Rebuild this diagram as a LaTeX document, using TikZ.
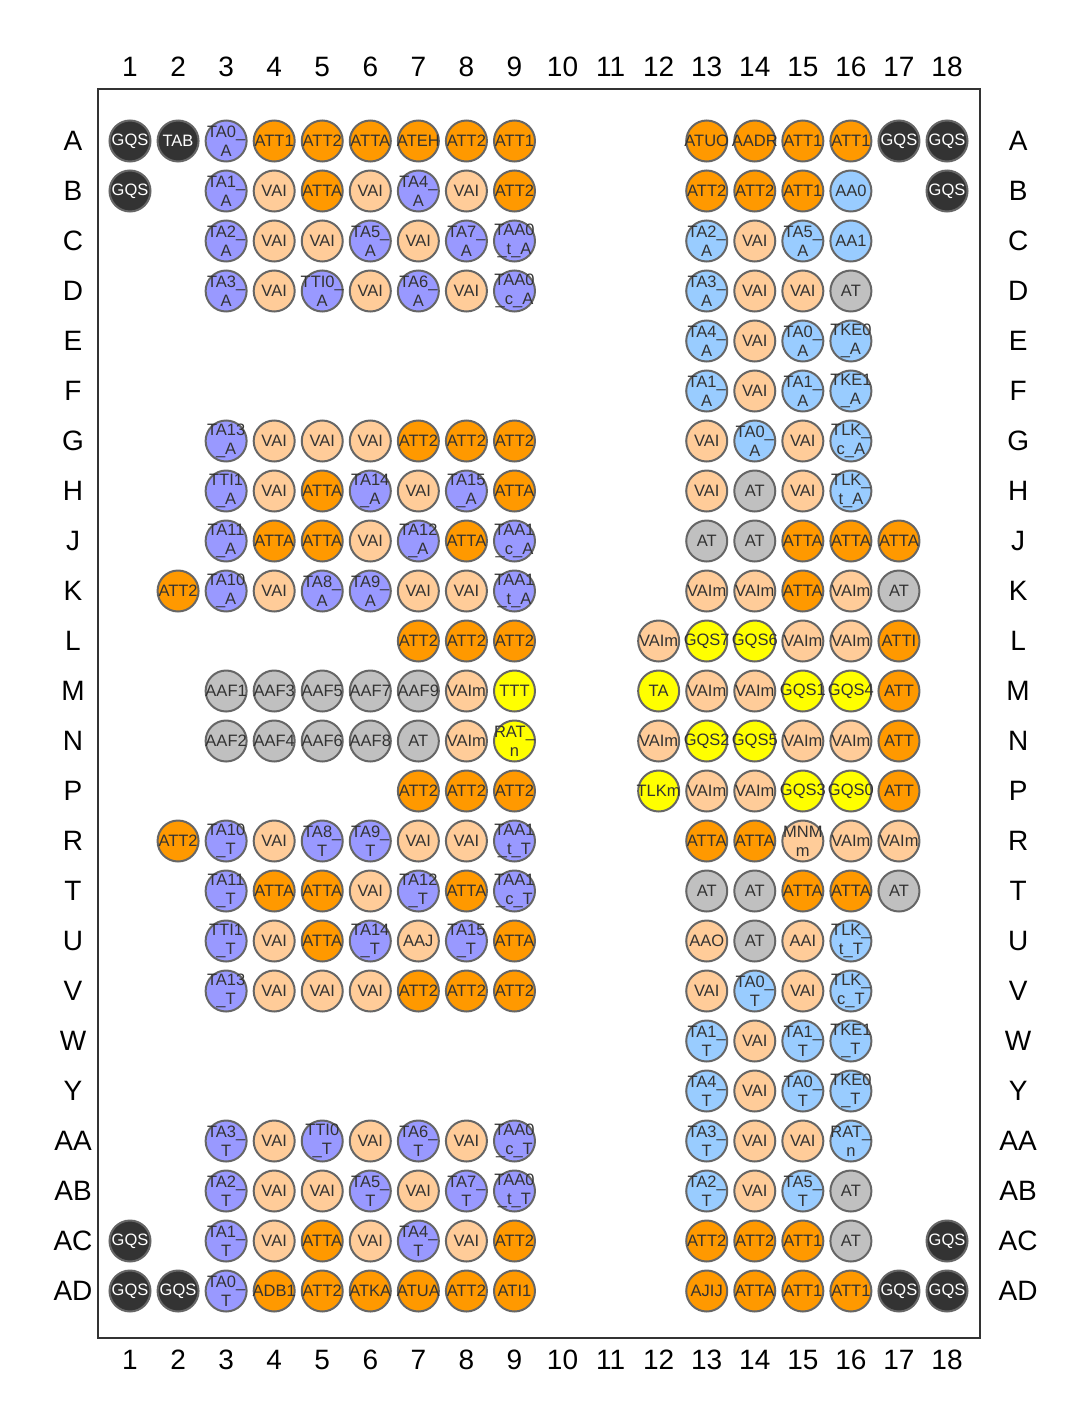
\documentclass[tikz,border=0pt]{standalone}
\usepackage{fontspec}
\setmainfont{Liberation Sans}
\usepackage{tikz}
\definecolor{framecol}{HTML}{333333}
\definecolor{ballline}{HTML}{666666}
\definecolor{textdark}{HTML}{333333}
\definecolor{filldk}{HTML}{333333}
\definecolor{filllav}{HTML}{9999FF}
\definecolor{fillor}{HTML}{FF9900}
\definecolor{fillpe}{HTML}{FFCC99}
\definecolor{filllb}{HTML}{99CCFF}
\definecolor{fillgr}{HTML}{C0C0C0}
\definecolor{fillye}{HTML}{FFFF00}
\colorlet{textdk}{white}
\colorlet{textlav}{textdark}
\colorlet{textor}{textdark}
\colorlet{textpe}{textdark}
\colorlet{textlb}{textdark}
\colorlet{textgr}{textdark}
\colorlet{textye}{textdark}
\tikzset{
  pin/.style={circle, draw=ballline, line width=2pt, minimum size=41pt,
    inner sep=0pt, fill=fill#1},
  pintext/.style={inner sep=0pt, align=center, text=text#1,
    font=\fontsize{16.5}{19}\selectfont},
  lbl/.style={text=black, font=\fontsize{28}{30}\selectfont}
}

\begin{document}
\begin{tikzpicture}[x=48.06pt, y=-50pt]
  \useasboundingbox (-1.705,-1.82) rectangle (20.975,26.72);
  % Package outline
  \draw[framecol, line width=2pt] (0.334,-0.04) rectangle (18.686,24.94);
  % Column numbers
  \foreach \c in {1,...,18} {
    \node[lbl] (top\c) at (\c,-0.48) {\c};
    \node[lbl] (bot\c) at (\c,25.38) {\c};
  }
  % Row letters
  \foreach \r [count=\i] in {A,B,C,D,E,F,G,H,J,K,L,M,N,P,R,T,U,V,W,Y,AA,AB,AC,AD} {
    \node[lbl] (left\r) at (-0.186,\i) {\r};
    \node[lbl] (right\r) at (19.48,\i) {\r};
  }
  % Balls, one row at a time (column/text/kind)
  \foreach \c/\t/\k in {1/GQS/dk, 2/TAB/dk, 3/TA0\_\\A/lav, 4/ATT1/or, 5/ATT2/or, 6/ATTA/or, 7/ATEH/or, 8/ATT2/or, 9/ATT1/or,
      13/ATUO/or, 14/AADR/or, 15/ATT1/or, 16/ATT1/or, 17/GQS/dk, 18/GQS/dk}
    \node[pin=\k, label={[pintext=\k]center:\t}] (pinA\c) at (\c,1) {};
  \foreach \c/\t/\k in {1/GQS/dk, 3/TA1\_\\A/lav, 4/VAI/pe, 5/ATTA/or, 6/VAI/pe, 7/TA4\_\\A/lav, 8/VAI/pe, 9/ATT2/or,
      13/ATT2/or, 14/ATT2/or, 15/ATT1/or, 16/AA0/lb, 18/GQS/dk}
    \node[pin=\k, label={[pintext=\k]center:\t}] (pinB\c) at (\c,2) {};
  \foreach \c/\t/\k in {3/TA2\_\\A/lav, 4/VAI/pe, 5/VAI/pe, 6/TA5\_\\A/lav, 7/VAI/pe, 8/TA7\_\\A/lav, 9/TAA0\\\_t\_A/lav,
      13/TA2\_\\A/lb, 14/VAI/pe, 15/TA5\_\\A/lb, 16/AA1/lb}
    \node[pin=\k, label={[pintext=\k]center:\t}] (pinC\c) at (\c,3) {};
  \foreach \c/\t/\k in {3/TA3\_\\A/lav, 4/VAI/pe, 5/TTI0\_\\A/lav, 6/VAI/pe, 7/TA6\_\\A/lav, 8/VAI/pe, 9/TAA0\\\_c\_A/lav,
      13/TA3\_\\A/lb, 14/VAI/pe, 15/VAI/pe, 16/AT/gr}
    \node[pin=\k, label={[pintext=\k]center:\t}] (pinD\c) at (\c,4) {};
  \foreach \c/\t/\k in {13/TA4\_\\A/lb, 14/VAI/pe, 15/TA0\_\\A/lb, 16/TKE0\\\_A/lb}
    \node[pin=\k, label={[pintext=\k]center:\t}] (pinE\c) at (\c,5) {};
  \foreach \c/\t/\k in {13/TA1\_\\A/lb, 14/VAI/pe, 15/TA1\_\\A/lb, 16/TKE1\\\_A/lb}
    \node[pin=\k, label={[pintext=\k]center:\t}] (pinF\c) at (\c,6) {};
  \foreach \c/\t/\k in {3/TA13\\\_A/lav, 4/VAI/pe, 5/VAI/pe, 6/VAI/pe, 7/ATT2/or, 8/ATT2/or, 9/ATT2/or,
      13/VAI/pe, 14/TA0\_\\A/lb, 15/VAI/pe, 16/TLK\_\\c\_A/lb}
    \node[pin=\k, label={[pintext=\k]center:\t}] (pinG\c) at (\c,7) {};
  \foreach \c/\t/\k in {3/TTI1\\\_A/lav, 4/VAI/pe, 5/ATTA/or, 6/TA14\\\_A/lav, 7/VAI/pe, 8/TA15\\\_A/lav, 9/ATTA/or,
      13/VAI/pe, 14/AT/gr, 15/VAI/pe, 16/TLK\_\\t\_A/lb}
    \node[pin=\k, label={[pintext=\k]center:\t}] (pinH\c) at (\c,8) {};
  \foreach \c/\t/\k in {3/TA11\\\_A/lav, 4/ATTA/or, 5/ATTA/or, 6/VAI/pe, 7/TA12\\\_A/lav, 8/ATTA/or, 9/TAA1\\\_c\_A/lav,
      13/AT/gr, 14/AT/gr, 15/ATTA/or, 16/ATTA/or, 17/ATTA/or}
    \node[pin=\k, label={[pintext=\k]center:\t}] (pinJ\c) at (\c,9) {};
  \foreach \c/\t/\k in {2/ATT2/or, 3/TA10\\\_A/lav, 4/VAI/pe, 5/TA8\_\\A/lav, 6/TA9\_\\A/lav, 7/VAI/pe, 8/VAI/pe, 9/TAA1\\\_t\_A/lav,
      13/VAIm/pe, 14/VAIm/pe, 15/ATTA/or, 16/VAIm/pe, 17/AT/gr}
    \node[pin=\k, label={[pintext=\k]center:\t}] (pinK\c) at (\c,10) {};
  \foreach \c/\t/\k in {7/ATT2/or, 8/ATT2/or, 9/ATT2/or,
      12/VAIm/pe, 13/GQS7/ye, 14/GQS6/ye, 15/VAIm/pe, 16/VAIm/pe, 17/ATTI/or}
    \node[pin=\k, label={[pintext=\k]center:\t}] (pinL\c) at (\c,11) {};
  \foreach \c/\t/\k in {3/AAF1/gr, 4/AAF3/gr, 5/AAF5/gr, 6/AAF7/gr, 7/AAF9/gr, 8/VAIm/pe, 9/TTT/ye,
      12/TA/ye, 13/VAIm/pe, 14/VAIm/pe, 15/GQS1/ye, 16/GQS4/ye, 17/ATT/or}
    \node[pin=\k, label={[pintext=\k]center:\t}] (pinM\c) at (\c,12) {};
  \foreach \c/\t/\k in {3/AAF2/gr, 4/AAF4/gr, 5/AAF6/gr, 6/AAF8/gr, 7/AT/gr, 8/VAIm/pe, 9/RAT\_\\n/ye,
      12/VAIm/pe, 13/GQS2/ye, 14/GQS5/ye, 15/VAIm/pe, 16/VAIm/pe, 17/ATT/or}
    \node[pin=\k, label={[pintext=\k]center:\t}] (pinN\c) at (\c,13) {};
  \foreach \c/\t/\k in {7/ATT2/or, 8/ATT2/or, 9/ATT2/or,
      12/TLKm/ye, 13/VAIm/pe, 14/VAIm/pe, 15/GQS3/ye, 16/GQS0/ye, 17/ATT/or}
    \node[pin=\k, label={[pintext=\k]center:\t}] (pinP\c) at (\c,14) {};
  \foreach \c/\t/\k in {2/ATT2/or, 3/TA10\\\_T/lav, 4/VAI/pe, 5/TA8\_\\T/lav, 6/TA9\_\\T/lav, 7/VAI/pe, 8/VAI/pe, 9/TAA1\\\_t\_T/lav,
      13/ATTA/or, 14/ATTA/or, 15/MNM\\m/pe, 16/VAIm/pe, 17/VAIm/pe}
    \node[pin=\k, label={[pintext=\k]center:\t}] (pinR\c) at (\c,15) {};
  \foreach \c/\t/\k in {3/TA11\\\_T/lav, 4/ATTA/or, 5/ATTA/or, 6/VAI/pe, 7/TA12\\\_T/lav, 8/ATTA/or, 9/TAA1\\\_c\_T/lav,
      13/AT/gr, 14/AT/gr, 15/ATTA/or, 16/ATTA/or, 17/AT/gr}
    \node[pin=\k, label={[pintext=\k]center:\t}] (pinT\c) at (\c,16) {};
  \foreach \c/\t/\k in {3/TTI1\\\_T/lav, 4/VAI/pe, 5/ATTA/or, 6/TA14\\\_T/lav, 7/AAJ/pe, 8/TA15\\\_T/lav, 9/ATTA/or,
      13/AAO/pe, 14/AT/gr, 15/AAI/pe, 16/TLK\_\\t\_T/lb}
    \node[pin=\k, label={[pintext=\k]center:\t}] (pinU\c) at (\c,17) {};
  \foreach \c/\t/\k in {3/TA13\\\_T/lav, 4/VAI/pe, 5/VAI/pe, 6/VAI/pe, 7/ATT2/or, 8/ATT2/or, 9/ATT2/or,
      13/VAI/pe, 14/TA0\_\\T/lb, 15/VAI/pe, 16/TLK\_\\c\_T/lb}
    \node[pin=\k, label={[pintext=\k]center:\t}] (pinV\c) at (\c,18) {};
  \foreach \c/\t/\k in {13/TA1\_\\T/lb, 14/VAI/pe, 15/TA1\_\\T/lb, 16/TKE1\\\_T/lb}
    \node[pin=\k, label={[pintext=\k]center:\t}] (pinW\c) at (\c,19) {};
  \foreach \c/\t/\k in {13/TA4\_\\T/lb, 14/VAI/pe, 15/TA0\_\\T/lb, 16/TKE0\\\_T/lb}
    \node[pin=\k, label={[pintext=\k]center:\t}] (pinY\c) at (\c,20) {};
  \foreach \c/\t/\k in {3/TA3\_\\T/lav, 4/VAI/pe, 5/TTI0\\\_T/lav, 6/VAI/pe, 7/TA6\_\\T/lav, 8/VAI/pe, 9/TAA0\\\_c\_T/lav,
      13/TA3\_\\T/lb, 14/VAI/pe, 15/VAI/pe, 16/RAT\_\\n/lb}
    \node[pin=\k, label={[pintext=\k]center:\t}] (pinAA\c) at (\c,21) {};
  \foreach \c/\t/\k in {3/TA2\_\\T/lav, 4/VAI/pe, 5/VAI/pe, 6/TA5\_\\T/lav, 7/VAI/pe, 8/TA7\_\\T/lav, 9/TAA0\\\_t\_T/lav,
      13/TA2\_\\T/lb, 14/VAI/pe, 15/TA5\_\\T/lb, 16/AT/gr}
    \node[pin=\k, label={[pintext=\k]center:\t}] (pinAB\c) at (\c,22) {};
  \foreach \c/\t/\k in {1/GQS/dk, 3/TA1\_\\T/lav, 4/VAI/pe, 5/ATTA/or, 6/VAI/pe, 7/TA4\_\\T/lav, 8/VAI/pe, 9/ATT2/or,
      13/ATT2/or, 14/ATT2/or, 15/ATT1/or, 16/AT/gr, 18/GQS/dk}
    \node[pin=\k, label={[pintext=\k]center:\t}] (pinAC\c) at (\c,23) {};
  \foreach \c/\t/\k in {1/GQS/dk, 2/GQS/dk, 3/TA0\_\\T/lav, 4/ADB1/or, 5/ATT2/or, 6/ATKA/or, 7/ATUA/or, 8/ATT2/or, 9/ATI1/or,
      13/AJIJ/or, 14/ATTA/or, 15/ATT1/or, 16/ATT1/or, 17/GQS/dk, 18/GQS/dk}
    \node[pin=\k, label={[pintext=\k]center:\t}] (pinAD\c) at (\c,24) {};
\end{tikzpicture}
\end{document}
